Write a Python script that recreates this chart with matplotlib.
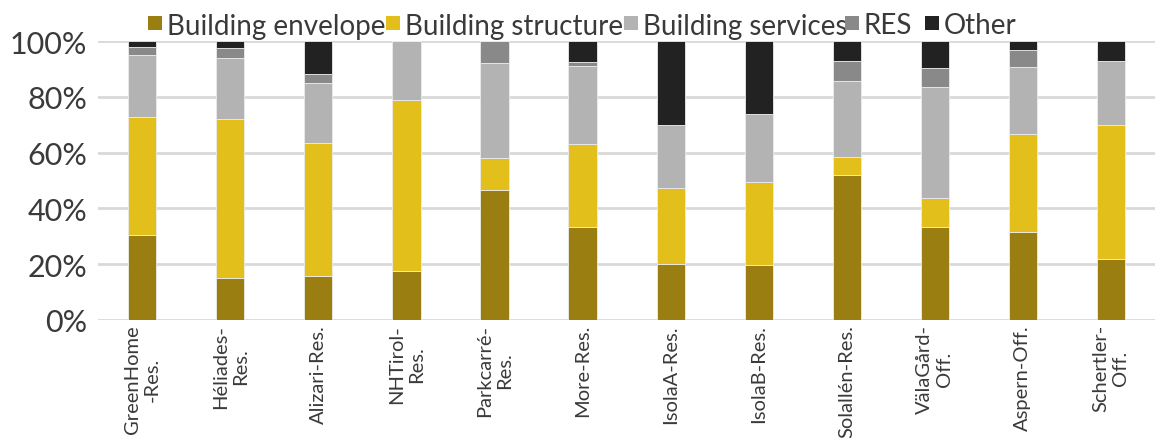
import numpy as np
import matplotlib
matplotlib.use("Agg")
import matplotlib.pyplot as plt
from matplotlib.patches import Rectangle
from matplotlib.ticker import PercentFormatter

plt.rcParams['font.family'] = ['Lato', 'DejaVu Sans']

# share of embodied impact per building part (%)
projects = ["GreenHome\n-Res.", "Héliades-\nRes.", "Alizari-Res.", "NHTirol-\nRes.",
            "Parkcarré-\nRes.", "More-Res.", "IsolaA-Res.", "IsolaB-Res.",
            "Solallén-Res.", "VälaGård-\nOff.", "Aspern-Off.", "Schertler-\nOff."]
envelope = [30.6, 14.9, 15.9, 17.7, 46.7, 33.3, 20.0, 19.8, 52.1, 33.5, 31.4, 21.7]
structure = [42.2, 57.0, 47.4, 61.3, 11.5, 29.7, 27.2, 29.8, 6.3, 10.1, 35.4, 48.3]
services = [22.4, 21.9, 21.6, 20.9, 33.8, 28.2, 22.8, 24.1, 27.4, 39.9, 24.0, 22.7]
res = [2.6, 3.7, 3.3, 0.0, 8.0, 1.4, 0.0, 0.0, 7.0, 6.8, 5.9, 0.0]
other = [2.2, 2.5, 11.8, 0.1, 0.0, 7.4, 30.0, 26.3, 7.2, 9.7, 3.3, 7.3]

series = [("Building envelope", envelope, "#9b7e11"),
          ("Building structure", structure, "#e3bf1b"),
          ("Building services", services, "#b3b3b3"),
          ("RES", res, "#898989"),
          ("Other", other, "#222222")]

txt = "#3a3a3a"
W, H = 1155, 439
fig = plt.figure(figsize=(W / 100, H / 100), dpi=100)
ax = fig.add_axes([0.085, 0.269, 0.915, 0.635])

x = np.arange(len(projects))
bottom = np.zeros(len(projects))
for name, vals, col in series:
    vals = np.array(vals)
    ax.bar(x, vals, 0.32, bottom=bottom, color=col, label=name,
           edgecolor="#ececec", linewidth=0.6, zorder=3)
    bottom += vals

ax.set_xlim(-0.5, len(projects) - 0.5)
ax.set_ylim(0, 100)
ax.set_yticks(np.arange(0, 101, 20))
ax.yaxis.set_major_formatter(PercentFormatter(decimals=0))
ax.grid(axis="y", color="#d9d9d9", linewidth=2, zorder=0)
for s in ax.spines.values():
    s.set_visible(False)
ax.tick_params(axis="both", length=0)
ax.tick_params(axis="y", labelsize=22, labelcolor=txt, pad=8)
ax.tick_params(axis="x", pad=3)
ax.set_xticks(x)
ax.set_xticklabels(projects, rotation=90, fontsize=14.5, color=txt,
                   multialignment="center")

# legend row along the top, laid out by hand (pixel x of each swatch)
leg_x = [148, 386, 624, 845, 925]
leg_y = 24
sw = 14
for (name, vals, col), lx in zip(series, leg_x):
    fig.patches.append(Rectangle((lx / W, (H - leg_y - sw / 2) / H), sw / W, sw / H,
                                 transform=fig.transFigure, facecolor=col,
                                 edgecolor="none", zorder=5))
    fig.text((lx + sw + 5) / W, (H - leg_y) / H, name, fontsize=20, color=txt,
             ha="left", va="center_baseline")

fig.savefig("out.png", dpi=100)
